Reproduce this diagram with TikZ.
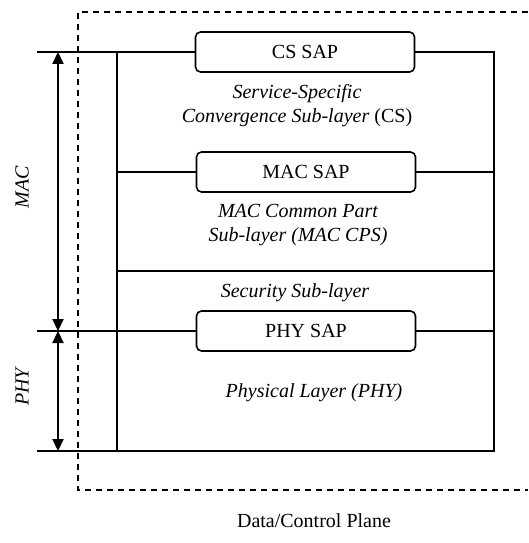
\documentclass[tikz,border=0pt]{standalone}
\usepackage{fontspec}
\setmainfont{Liberation Serif}
\usetikzlibrary{arrows.meta}

\begin{document}
\begin{tikzpicture}[x=1pt,y=-1pt,line width=1.6pt]
        \tikzstyle{every node}=[font=\fontsize{20}{24}\selectfont]
        \tikzstyle{sap}=[draw,rounded corners=5pt,minimum width=219pt,minimum height=40pt,inner sep=0pt]
        \tikzstyle{layer}=[align=center,font=\fontsize{20}{24}\selectfont\itshape]
        \tikzstyle{span}=[line width=2.2pt,{Triangle[length=12pt,width=11pt]}-{Triangle[length=12pt,width=11pt]}]
        \tikzstyle{plane}=[dashed,dash pattern=on 6pt off 5pt,line width=1.3pt]
        \useasboundingbox (0,0) rectangle (528,543);
        % service access points
        \node[sap] (cs) at (305,52) {CS SAP};
        \node[sap] (mac) at (306,172) {MAC SAP};
        \node[sap] (phy) at (306,331) {PHY SAP};
        % sub-layer names
        \node[layer] (csl) at (297,106) {Service-Specific\\Convergence Sub-layer \textup{(CS)}};
        \node[layer] (cps) at (298,225) {MAC Common Part\\Sub-layer (MAC CPS)};
        \node[layer] (sec) at (295,293) {Security Sub-layer};
        \node[layer] (phyl) at (314,393) {Physical Layer (PHY)};
        \node (dcp) at (314,521) {Data/Control Plane};
        \node[layer,rotate=90] (maclbl) at (22,187) {MAC};
        \node[layer,rotate=90] (phylbl) at (22,387) {PHY};
        % frame corners
        \coordinate (topl) at (37,52);
        \coordinate (topi) at (117,52);
        \coordinate (topr) at (494,52);
        \coordinate (macl) at (117,172);
        \coordinate (macr) at (494,172);
        \coordinate (secl) at (117,271);
        \coordinate (secr) at (494,271);
        \coordinate (phyll) at (37,331);
        \coordinate (phyr) at (494,331);
        \coordinate (botl) at (37,451);
        \coordinate (boti) at (117,451);
        \coordinate (botr) at (494,451);
        \draw (topl) -- (cs.west);
        \draw (cs.east) -- (topr) -- (botr) -- (botl);
        \draw (topi) -- (boti);
        \draw (macl) -- (mac.west);
        \draw (mac.east) -- (macr);
        \draw (secl) -- (secr);
        \draw (phyll) -- (phy.west);
        \draw (phy.east) -- (phyr);
        % extents of MAC and PHY
        \coordinate (mact) at (58,52);
        \coordinate (macb) at (58,331);
        \coordinate (phyb) at (58,451);
        \draw[span] (mact) -- (macb);
        \draw[span] (macb) -- (phyb);
        % data/control plane
        \coordinate (dtr) at (528,12);
        \coordinate (dtl) at (78,12);
        \coordinate (dbl) at (78,490);
        \coordinate (dbr) at (528,490);
        \draw[plane] (dtr) -- (dtl) -- (dbl) -- (dbr);
\end{tikzpicture}
\end{document}
